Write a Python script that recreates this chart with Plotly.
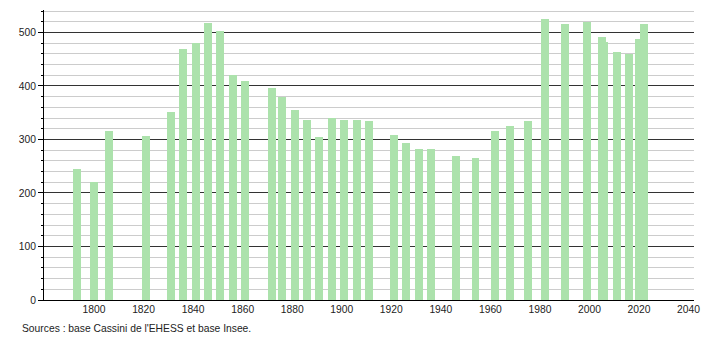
import plotly.graph_objects as go

years = [1793, 1800, 1806, 1821, 1831, 1836, 1841, 1846, 1851, 1856, 1861,
         1872, 1876, 1881, 1886, 1891, 1896, 1901, 1906, 1911,
         1921, 1926, 1931, 1936, 1946, 1954, 1962, 1968, 1975, 1982,
         1990, 1999, 2005, 2006, 2011, 2016, 2020, 2022]
population = [244, 220, 315, 306, 352, 470, 481, 518, 502, 421, 410,
              397, 380, 356, 336, 304, 341, 336, 336, 334,
              308, 293, 282, 282, 269, 265, 315, 326, 334, 526,
              515, 520, 492, 483, 464, 459, 487, 515]
x_ticks = [1800, 1820, 1840, 1860, 1880, 1900, 1920, 1940, 1960, 1980, 2000, 2020, 2040]
y_ticks = [0, 100, 200, 300, 400, 500]
source_text = "Sources : base Cassini de l'EHESS et base Insee."

font_family = "Liberation Sans, Arial, sans-serif"
fsize = 10.3

fig = go.Figure()
fig.add_trace(go.Bar(
    x=years, y=population, width=3.2,
    marker=dict(color="rgb(172,226,172)", line=dict(width=0)),
    hoverinfo="x+y",
))

fig.update_layout(
    width=710, height=340,
    margin=dict(l=44, r=10, t=10, b=40),
    paper_bgcolor="white", plot_bgcolor="white",
    showlegend=False,
    font=dict(family=font_family, size=fsize, color="#222"),
    bargap=0,
)
fig.update_xaxes(
    range=[1779.8, 2042.2],
    tickvals=x_ticks, ticktext=[str(t) for t in x_ticks],
    showgrid=False, zeroline=False,
    showline=True, linecolor="black", linewidth=1,
    ticks="", tickfont=dict(size=fsize, color="#222"),
)
fig.update_yaxes(
    range=[0, 542],
    tickvals=y_ticks,
    showgrid=True, gridcolor="#333333", gridwidth=1,
    zeroline=False,
    showline=True, linecolor="black", linewidth=1,
    ticks="outside", ticklen=5, tickcolor="black",
    tickfont=dict(size=fsize, color="#222"),
    minor=dict(dtick=20, showgrid=True, gridcolor="#cccccc", gridwidth=1,
               ticks="outside", ticklen=2, tickcolor="black"),
)
fig.add_annotation(
    text=source_text, xref="paper", yref="paper",
    x=(20 - 44) / 656, y=(300 - 328) / 290,
    xanchor="left", yanchor="middle", showarrow=False,
    font=dict(family=font_family, size=fsize, color="#222"),
)

fig.write_html("out.html")
